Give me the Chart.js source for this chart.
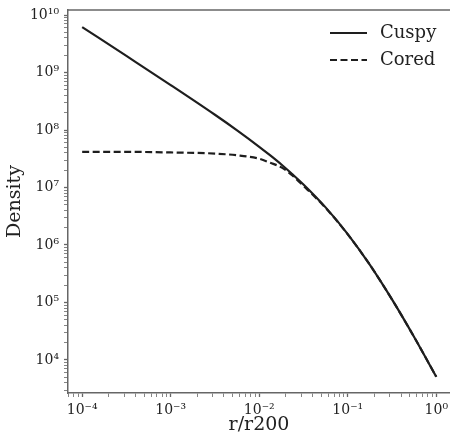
<!DOCTYPE html>
<html>
<head>
<meta charset="utf-8">
<script src="https://cdn.jsdelivr.net/npm/chart.js@4"></script>
<style>
  html, body { margin: 0; padding: 0; background: #fff; }
  #wrap { width: 450px; height: 436px; }
</style>
</head>
<body>
<div id="wrap"><canvas id="profile"></canvas></div>
<script>
// radius in units of r200, density profiles
const radius = [1e-4, 3.16e-4, 1e-3, 3.16e-3, 5.62e-3, 1e-2, 1.334e-2, 1.78e-2, 2.371e-2, 3.16e-2, 5.62e-2, 1e-1, 1.78e-1, 3.16e-1, 5.62e-1, 1];
const cuspyDensity = [6.17e9, 1.94e9, 6.05e8, 1.84e8, 9.86e7, 5.11e7, 3.61e7, 2.51e7, 1.70e7, 1.13e7, 4.51e6, 1.55e6, 4.51e5, 1.13e5, 2.51e4, 5.11e3];
const coredDensity = [4.17e7, 4.17e7, 4.07e7, 3.89e7, 3.63e7, 3.16e7, 2.69e7, 2.24e7, 1.62e7, 1.07e7, 4.42e6, 1.53e6, 4.51e5, 1.13e5, 2.51e4, 5.11e3];
const seriesNames = ['Cuspy', 'Cored'];

// decades that get a labelled tick
const xDecades = [-4, -3, -2, -1, 0];
const yDecades = [4, 5, 6, 7, 8, 9, 10];

const FONT = "'DejaVu Serif', serif";
const INK = '#222';
const SPINE = '#666';

const sup = { '-': '⁻', '0': '⁰', '1': '¹', '2': '²', '3': '³', '4': '⁴', '5': '⁵', '6': '⁶', '7': '⁷', '8': '⁸', '9': '⁹' };
function pow10Label(e) {
    return '10' + String(e).split('').map(c => sup[c]).join('');
}

// major ticks at each decade plus minor ticks 2..9 inside the range
function logTicks(decades, min, max) {
    const out = [];
    for (let e = decades[0] - 1; e <= decades[decades.length - 1]; e++) {
        for (let m = 1; m <= 9; m++) {
            const v = m * Math.pow(10, e);
            if (v >= min && v <= max) out.push({ value: v, major: m === 1 });
        }
    }
    return out;
}

function isDecade(v) {
    const e = Math.log10(v);
    return Math.abs(e - Math.round(e)) < 1e-6;
}

const xMin = Math.pow(10, -4.16), xMax = Math.pow(10, 0.155);
const yMin = Math.pow(10, 3.426), yMax = Math.pow(10, 10.087);

// plain legend drawn inside the plot, plus the top spine
const frameAndLegend = {
    id: 'frameAndLegend',
    afterDraw(chart) {
        const { ctx, chartArea } = chart;
        ctx.save();
        ctx.strokeStyle = SPINE;
        ctx.lineWidth = 1.5;
        ctx.beginPath();
        ctx.moveTo(chartArea.left, chartArea.top);
        ctx.lineTo(chartArea.right, chartArea.top);
        ctx.stroke();

        const x0 = chartArea.right - 120;
        chart.data.datasets.forEach((ds, i) => {
            const y = chartArea.top + 23 + i * 27;
            ctx.strokeStyle = ds.borderColor;
            ctx.lineWidth = ds.borderWidth;
            ctx.setLineDash(ds.borderDash || []);
            ctx.beginPath();
            ctx.moveTo(x0, y);
            ctx.lineTo(x0 + 37, y);
            ctx.stroke();
            ctx.setLineDash([]);
            ctx.fillStyle = INK;
            ctx.font = '18px ' + FONT;
            ctx.textBaseline = 'middle';
            ctx.fillText(ds.label, x0 + 50, y);
        });
        ctx.restore();
    }
};

const ctx = document.getElementById('profile').getContext('2d');
new Chart(ctx, {
    type: 'line',
    data: {
        datasets: [
            {
                label: seriesNames[0],
                data: radius.map((r, i) => ({ x: r, y: cuspyDensity[i] })),
                borderColor: '#1e1e1e',
                borderWidth: 2.2,
                pointRadius: 0,
                cubicInterpolationMode: 'monotone',
                fill: false
            },
            {
                label: seriesNames[1],
                data: radius.map((r, i) => ({ x: r, y: coredDensity[i] })),
                borderColor: '#1e1e1e',
                borderWidth: 2.2,
                borderDash: [7, 3.5],
                pointRadius: 0,
                cubicInterpolationMode: 'monotone',
                fill: false
            }
        ]
    },
    options: {
        responsive: true,
        maintainAspectRatio: false,
        animation: false,
        layout: { padding: { top: 10, right: 0, left: 0, bottom: 0 } },
        plugins: {
            legend: { display: false },
            tooltip: { enabled: false }
        },
        scales: {
            x: {
                type: 'logarithmic',
                min: xMin,
                max: xMax,
                afterBuildTicks: s => { s.ticks = logTicks(xDecades, xMin, xMax); },
                afterFit: s => { s.height = 43; s.paddingLeft = 0; s.paddingRight = 0; },
                ticks: {
                    autoSkip: false,
                    maxRotation: 0,
                    padding: 5,
                    color: INK,
                    font: { family: FONT, size: 14 },
                    callback: v => isDecade(v) ? pow10Label(Math.round(Math.log10(v))) : ''
                },
                grid: {
                    drawOnChartArea: false,
                    drawTicks: true,
                    tickLength: 4,
                    tickColor: SPINE,
                    tickWidth: c => (c.tick && c.tick.major) ? 1.3 : 0.8
                },
                border: { display: true, color: SPINE, width: 1.5 },
                title: {
                    display: true,
                    text: 'r/r200',
                    color: INK,
                    font: { family: FONT, size: 19, lineHeight: 1.2 },
                    padding: { top: 0, bottom: 0 }
                }
            },
            y: {
                type: 'logarithmic',
                min: yMin,
                max: yMax,
                afterBuildTicks: s => { s.ticks = logTicks(yDecades, yMin, yMax); },
                afterFit: s => { s.width = 68; s.paddingTop = 0; s.paddingBottom = 0; },
                ticks: {
                    autoSkip: false,
                    padding: 5,
                    color: INK,
                    font: { family: FONT, size: 14 },
                    callback: v => isDecade(v) ? pow10Label(Math.round(Math.log10(v))) : ''
                },
                grid: {
                    drawOnChartArea: false,
                    drawTicks: true,
                    tickLength: 4,
                    tickColor: SPINE,
                    tickWidth: c => (c.tick && c.tick.major) ? 1.3 : 0.8
                },
                border: { display: true, color: SPINE, width: 1.5 },
                title: {
                    display: true,
                    text: 'Density',
                    color: INK,
                    font: { family: FONT, size: 19, lineHeight: 1.2 },
                    padding: { top: 4, bottom: 0 }
                }
            }
        }
    },
    plugins: [frameAndLegend]
});
</script>
</body>
</html>
